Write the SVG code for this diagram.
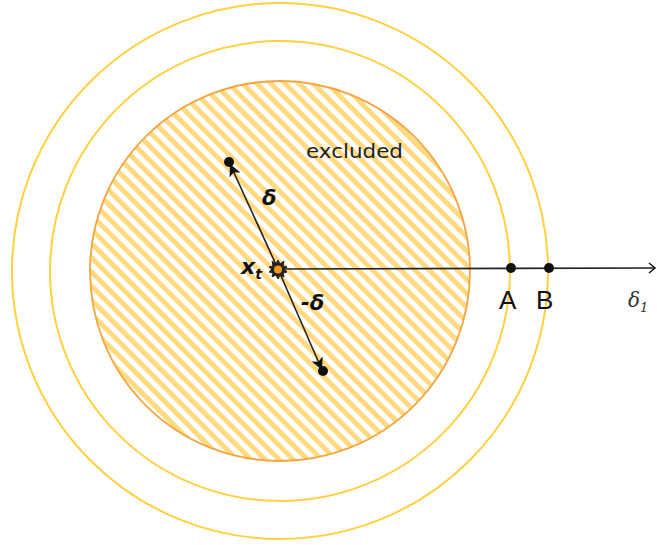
<svg xmlns="http://www.w3.org/2000/svg" width="657" height="545" viewBox="0 0 657 545">
<style>
.ring{fill:none;stroke:#FFD040;stroke-width:2}
.ax{stroke:#222;stroke-width:1.6;fill:none}
.dot{fill:#111}
.m{font-family:"DejaVu Sans",Verdana,sans-serif;font-style:italic;font-weight:bold;fill:#111}
.lbl{font-family:"Liberation Sans",Arial,sans-serif;font-size:26px;fill:#111}
</style>
<defs>
<pattern id="hatch" width="10" height="10" patternUnits="userSpaceOnUse" patternTransform="rotate(-45)">
<rect x="0" y="0" width="5" height="10" fill="#FFDA80"/>
</pattern>
<marker id="ah" markerWidth="14" markerHeight="14" refX="12" refY="7" orient="auto" markerUnits="userSpaceOnUse">
<path d="M0,1 L12,7 L0,13 L3,7 Z" fill="#111"/>
</marker>
<marker id="open" markerWidth="12" markerHeight="12" refX="10" refY="6" orient="auto" markerUnits="userSpaceOnUse">
<path d="M4,1 L10,6 L4,11" fill="none" stroke="#111" stroke-width="1.5"/>
</marker>
</defs>
<rect width="657" height="545" fill="#fff"/>
<g id="ring-outer"><circle class="ring" cx="280" cy="271" r="268"/></g>
<g id="ring-middle"><circle class="ring" cx="280" cy="271" r="230"/></g>
<g id="excluded">
<circle cx="280" cy="271" r="190" fill="url(#hatch)" stroke="#F5A540" stroke-width="1.8"/>
<text x="306" y="158" font-family="DejaVu Sans,Verdana,sans-serif" font-size="19" textLength="97" lengthAdjust="spacingAndGlyphs" fill="#222">excluded</text>
</g>
<g id="connectors">
<line class="ax" x1="278" y1="269" x2="655" y2="268" marker-end="url(#open)"/>
<line class="ax" x1="278" y1="269" x2="230" y2="164" marker-end="url(#ah)"/>
<line class="ax" x1="278" y1="269" x2="322" y2="370" marker-end="url(#ah)"/>
</g>
<g id="delta-plus"><circle class="dot" cx="229" cy="162" r="5"/><text class="m" x="262" y="205" font-size="21">δ</text></g>
<g id="delta-minus"><circle class="dot" cx="323" cy="371" r="5"/><text class="m" x="301" y="310" font-size="21">-δ</text></g>
<g id="xt">
<polygon points="278,260 280,264 284,261 283,266 287,267 284,269 287,272 283,273 284,277 280,275 278,279 276,275 272,277 273,273 269,272 272,269 269,267 273,266 272,261 276,264" fill="#222" stroke="#222" stroke-width="1"/>
<circle cx="278" cy="269.5" r="4" fill="#F39A1A"/>
<text class="m" x="241" y="274" font-size="22">x<tspan font-size="14" dy="5">t</tspan></text>
</g>
<g id="A"><circle class="dot" cx="511" cy="268" r="5"/><text class="lbl" x="499" y="309">A</text></g>
<g id="B"><circle class="dot" cx="549" cy="268" r="5"/><text class="lbl" x="536" y="309">B</text></g>
<g id="delta1"><text x="628" y="307" font-family="DejaVu Serif,serif" font-style="italic" font-size="20" fill="#333">δ<tspan font-size="13" dy="5">1</tspan></text></g>
</svg>
